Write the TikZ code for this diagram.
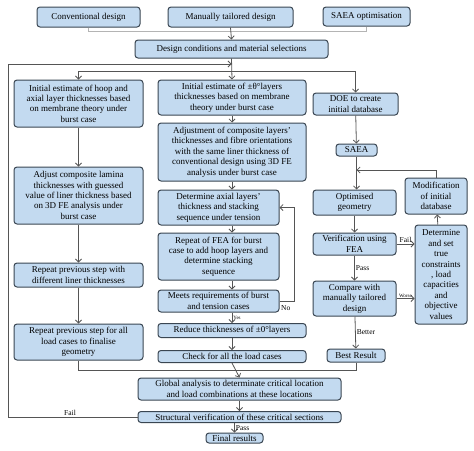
\documentclass[tikz,border=0pt]{standalone}
\usepackage{fontspec}
\setmainfont{Liberation Serif}
\usetikzlibrary{arrows.meta}
\definecolor{bx}{HTML}{C3DAF0}
\definecolor{ed}{HTML}{3A4652}
\definecolor{ln}{HTML}{555555}
\definecolor{lg}{HTML}{B4B4B4}

\begin{document}
\begin{tikzpicture}[x=1pt,y=-1pt,
  blk/.style={draw=ed,fill=bx,line width=1pt,rounded corners=3pt,align=center,inner sep=1pt,font=\fontsize{9}{10.4}\selectfont},
  arr/.style={color=ln,line width=0.8pt,-{Straight Barb[length=3pt,width=6pt]}},
  lnk/.style={color=lg,line width=0.6pt},
  lbl/.style={text=black,font=\fontsize{7.5}{8}\selectfont,inner sep=1pt},
  tiny/.style={text=black,font=\fontsize{5}{6}\selectfont,inner sep=1pt}]
            \useasboundingbox (0,0) rectangle (474,450);
            \node[blk,minimum width=103pt,minimum height=20pt] (conv) at (88.5,17) {Conventional design};
            \node[blk,minimum width=125pt,minimum height=20pt] (manu) at (230.5,17) {Manually tailored design};
            \node[blk,minimum width=87pt,minimum height=19pt] (saop) at (366.5,16.5) {SAEA optimisation};
            \node[blk,minimum width=193pt,minimum height=18pt] (cond) at (231.5,49) {Design conditions and material selections};
            \node[blk,minimum width=129pt,minimum height=47pt] (L1) at (78.5,103.5) {Initial estimate of hoop and\\axial layer thicknesses based\\on membrane theory under\\burst case};
            \node[blk,minimum width=129pt,minimum height=57pt] (L2) at (78.5,195.5) {Adjust composite lamina\\thicknesses with guessed\\value of liner thickness based\\on 3D FE analysis under\\burst case};
            \node[blk,minimum width=129pt,minimum height=24pt] (L3) at (78.5,275) {Repeat previous step with\\different liner thicknesses};
            \node[blk,minimum width=129pt,minimum height=36pt] (L4) at (78.5,342) {Repeat previous step for all\\load cases to finalise\\geometry};
            \node[blk,minimum width=148pt,minimum height=35pt] (M1) at (232,97.5) {Initial estimate of ±θ°layers\\thicknesses based on membrane\\theory under burst case};
            \node[blk,minimum width=148pt,minimum height=58pt] (M2) at (232,152) {Adjustment of composite layers'\\thicknesses and fibre orientations\\with the same liner thickness of\\conventional design using 3D FE\\analysis under burst case};
            \node[blk,minimum width=121pt,minimum height=35pt] (M3) at (218.5,207.5) {Determine axial layers'\\thickness and stacking\\sequence under tension};
            \node[blk,minimum width=121pt,minimum height=47pt] (M4) at (218.5,256.5) {Repeat of FEA for burst\\case to add hoop layers and\\determine stacking\\sequence};
            \node[blk,minimum width=121pt,minimum height=22pt] (M5) at (218.5,301) {Meets requirements of burst\\and tension cases};
            \node[blk,minimum width=148pt,minimum height=14pt] (M6) at (232,330.5) {Reduce thicknesses of ±0°layers};
            \node[blk,minimum width=148pt,minimum height=12pt] (M7) at (232,356.5) {Check for all the load cases};
            \node[blk,minimum width=203pt,minimum height=22pt] (glob) at (239.5,389) {Global analysis to determinate critical location\\and load combinations at these locations};
            \node[blk,minimum width=203pt,minimum height=11pt] (strv) at (239.5,417) {Structural verification of these critical sections};
            \node[blk,minimum width=57pt,minimum height=10pt] (fin) at (234.5,438) {Final results};
            \node[blk,minimum width=85pt,minimum height=22pt] (doe) at (355.5,104) {DOE to create\\initial database};
            \node[blk,minimum width=41pt,minimum height=12pt] (saea) at (356.5,150) {SAEA};
            \node[blk,minimum width=83pt,minimum height=25pt] (opt) at (354.5,202.5) {Optimised\\geometry};
            \node[blk,minimum width=62pt,minimum height=36pt] (mod) at (436,196) {Modification\\of initial\\database};
            \node[blk,minimum width=83pt,minimum height=22pt] (ver) at (354.5,244) {Verification using\\FEA};
            \node[blk,minimum width=52pt,minimum height=99pt] (det) at (441,274.5) {Determine\\and set\\true\\constraints\\, load\\capacities\\and\\objective\\values};
            \node[blk,minimum width=83pt,minimum height=35pt] (cmp) at (354.5,298.5) {Compare with\\manually tailored\\design};
            \node[blk,minimum width=58pt,minimum height=13pt] (best) at (356,355.5) {Best Result};
            \coordinate (top) at (231.5,31);
            \coordinate (spl) at (231.5,71);
            \coordinate (back) at (231.5,64);
            \coordinate (mrg) at (232,370);
            \coordinate (loopl) at (8,64);
            \coordinate (nor) at (294,0);
            \coordinate (mdb) at (356.5,170);
            \draw[lnk] (conv.south) |- (top);
            \draw[lnk] (saop.south) |- (top);
            \draw[arr] (manu.south) -- (cond.north);
            \draw[arr] (cond.south) -- (M1.north);
            \draw[arr] (spl) -| (L1.north);
            \draw[arr] (spl) -| (doe.north);
            \draw[arr] (strv.west) -| (loopl) -- (back);
            \node[lbl,above] (fail1) at (70,417) {Fail};
            \draw[arr] (L1) -- (L2);
            \draw[arr] (L2) -- (L3);
            \draw[arr] (L3) -- (L4);
            \draw[color=ln,line width=0.8pt] (L4.south) |- (mrg);
            \draw[color=ln,line width=0.8pt] (best.south) |- (mrg);
            \draw[arr] (M7.south) -- (glob.north);
            \draw[arr] (M1) -- (M2);
            \draw[arr] (M2.south) -- (M2.south |- M3.north);
            \draw[arr] (M3.south -| M2.south) -- (M2.south |- M4.north);
            \draw[arr] (M4.south -| M2.south) -- (M2.south |- M5.north);
            \draw[arr] (M5.south -| M2.south) -- (M6.north) node[tiny,midway,right] {Yes};
            \draw[arr] (M6) -- (M7);
            \draw[arr] (M5.east) -| (nor |- M5.east) |- (M3.east);
            \node[lbl,right] (no) at (280,308) {No};
            \draw[arr] (glob.south) -- (glob.south |- strv.north);
            \draw[arr] (strv.south -| fin.north) -- (fin.north) node[lbl,midway,right] {Pass};
            \draw[arr] (doe) -- (saea);
            \draw[arr] (saea.south -| mdb) -- (opt.north -| mdb);
            \draw[arr] (mod.north) |- (mdb);
            \draw[arr] (opt) -- (ver);
            \draw[arr] (ver) -- (cmp) node[lbl,midway,right] {Pass};
            \draw[arr] (cmp) -- (best) node[lbl,midway,right] {Better};
            \draw[arr] (ver.east) -- (ver.east -| det.west) node[lbl,midway,above] {Fail};
            \draw[arr] (cmp.east) -- (cmp.east -| det.west) node[tiny,midway,above] {Worse};
            \draw[arr] (det) -- (mod);
          \end{tikzpicture}
\end{document}
